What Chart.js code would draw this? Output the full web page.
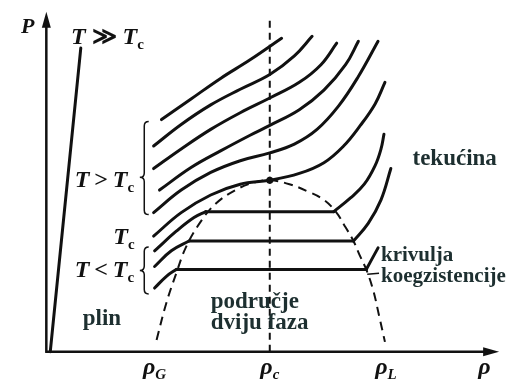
<!DOCTYPE html>
<html>
<head>
<meta charset="utf-8">
<script src="https://cdn.jsdelivr.net/npm/chart.js@4"></script>
<style>
  html, body { margin: 0; padding: 0; background: #fff; }
  canvas { display: block; }
</style>
</head>
<body>
<canvas id="chart" width="511" height="389"></canvas>
<script>
// Isotherms of a real substance in the density–pressure plane.
// x = density ρ, y = pressure P (arbitrary units, origin at the axes' corner).

// Far above the critical temperature: almost ideal gas
const hotIsotherm = [[4, 0], [35, 310]];

// Supercritical isotherms, hottest first
const superIso1 = [[117, 237], [147, 258], [177, 279], [207, 298], [239, 320]];
const superIso2 = [[109, 210], [137, 232], [167, 252], [197, 268], [227, 283], [252, 302], [270, 322]];
const superIso3 = [[109, 187], [137, 207], [167, 227], [197, 244], [227, 259], [257, 275], [279, 293], [295, 315]];
const superIso4 = [[115, 165], [147, 188], [177, 205], [207, 221], [227, 231], [257, 247], [282, 267], [304, 293], [317, 317]];
const superIso5 = [[109, 142], [137, 165], [167, 183], [197, 195], [227, 203], [252, 212], [275, 227], [297, 251], [317, 281], [337, 317]];

// Critical isotherm and the critical point
const criticalIso = [[109, 118], [137, 142], [167, 160], [197, 171], [227, 175], [257, 182], [282, 193], [302, 210], [319, 231], [334, 253], [344, 275]];
const criticalPoint = [[227, 175]];

// Subcritical isotherms: saturation pressure, coexisting densities, gas and liquid branches
const satPressure = [143, 113, 84];
const satGasDensity = [162, 145, 132];
const satLiquidDensity = [292, 312, 325];
const gasBranches = [
  [[110, 103], [132, 123], [150, 137]],
  [[110, 87], [127, 103]],
  [[110, 65], [122, 77]]
];
const liquidBranches = [
  [[309, 157], [323, 171], [334, 190], [340, 207], [343, 222]],
  [[327, 131], [340, 155], [350, 187]],
  [[337, 106]]
];

// Coexistence (binodal) curve
const coexistence = [[112, 12], [122, 50], [132, 80], [142, 107], [157, 133], [172, 151], [192, 165], [212, 173], [227, 175],
  [247, 171], [267, 163], [282, 155], [294, 143], [304, 127], [312, 113], [319, 97], [325, 84], [332, 63], [338, 37], [344, 10]];

// Density tick marks on the ρ axis
const rhoTickValues = [110, 227, 345];
const rhoTickSubs = ['G', 'c', 'L'];

// Region and curve labels
const regionWords = ['plin', 'područje', 'dviju faza', 'tekućina', 'krivulja', 'koegzistencije'];

const pts = arr => arr.map(([x, y]) => ({ x, y }));

const curve = (data, extra = {}) => Object.assign({
  data: pts(data), showLine: true, borderColor: '#111', borderWidth: 3,
  pointRadius: 0, tension: 0.4, fill: false, borderCapStyle: 'round'
}, extra);

const datasets = [];
datasets.push(curve(hotIsotherm, { tension: 0 }));
[superIso1, superIso2, superIso3, superIso4, superIso5, criticalIso].forEach(d => datasets.push(curve(d)));

satPressure.forEach((p, i) => {
  const gasEnd = [satGasDensity[i], p];
  const liqStart = [satLiquidDensity[i], p];
  datasets.push(curve([...gasBranches[i], gasEnd]));
  datasets.push(curve([gasEnd, liqStart], { tension: 0 }));
  datasets.push(curve([liqStart, ...liquidBranches[i]]));
});

datasets.push(curve(coexistence, { borderWidth: 2, borderDash: [9, 6], borderCapStyle: 'butt' }));
datasets.push(curve([[rhoTickValues[1], 0], [rhoTickValues[1], 340]], {
  borderWidth: 2, borderDash: [7, 5], tension: 0, borderCapStyle: 'butt'
}));
datasets.push({ data: pts(criticalPoint), showLine: false, pointRadius: 3.5, pointBackgroundColor: '#111', pointBorderWidth: 0 });

const SERIF = '"Liberation Serif", "DejaVu Serif", serif';

// Draws a run of text pieces (normal, italic, subscript) starting at x on baseline y
function drawRich(ctx, x, y, parts, size, align) {
  const fontOf = p => `${p.it ? 'italic ' : ''}bold ${p.sub ? Math.round(size * 0.62) : size}px ${SERIF}`;
  let total = 0;
  parts.forEach(p => { ctx.font = fontOf(p); total += ctx.measureText(p.t).width; });
  let cx = align === 'center' ? x - total / 2 : x;
  parts.forEach(p => {
    ctx.font = fontOf(p);
    ctx.fillText(p.t, cx, p.sub ? y + size * 0.2 : y);
    cx += ctx.measureText(p.t).width;
  });
}

// Left-pointing curly brace between top and bottom, tip at tipY
function drawBrace(ctx, xl, xr, top, bottom, tipY) {
  const xm = (xl + xr) / 2, r = xr - xm;
  ctx.beginPath();
  ctx.moveTo(xr, top);
  ctx.quadraticCurveTo(xm, top, xm, top + r);
  ctx.lineTo(xm, tipY - r);
  ctx.quadraticCurveTo(xm, tipY, xl, tipY);
  ctx.quadraticCurveTo(xm, tipY, xm, tipY + r);
  ctx.lineTo(xm, bottom - r);
  ctx.quadraticCurveTo(xm, bottom, xr, bottom);
  ctx.stroke();
}

const annotations = {
  id: 'phaseAnnotations',
  afterDatasetsDraw(chart) {
    const { ctx, scales: { x, y } } = chart;
    const px = v => x.getPixelForValue(v), py = v => y.getPixelForValue(v);
    ctx.save();
    ctx.strokeStyle = '#111';
    ctx.fillStyle = '#111';
    ctx.lineCap = 'butt';

    // Axes with arrowheads
    const ox = px(0), oy = py(0);
    const yTip = py(347), xTip = px(460);
    ctx.lineWidth = 2.5;
    ctx.beginPath();
    ctx.moveTo(ox, oy + 1); ctx.lineTo(ox, yTip + 10);
    ctx.moveTo(ox - 1, oy); ctx.lineTo(xTip - 10, oy);
    ctx.stroke();
    ctx.beginPath();
    ctx.moveTo(ox, yTip); ctx.lineTo(ox - 4.5, yTip + 16); ctx.lineTo(ox + 4.5, yTip + 16); ctx.closePath();
    ctx.fill();
    ctx.beginPath();
    ctx.moveTo(xTip, oy); ctx.lineTo(xTip - 16, oy - 4.5); ctx.lineTo(xTip - 16, oy + 4.5); ctx.closePath();
    ctx.fill();

    // Braces grouping the isotherms
    ctx.lineWidth = 1.5;
    drawBrace(ctx, px(95), px(104), py(235), py(140), py(178));
    drawBrace(ctx, px(95), px(104), py(107), py(59), py(83));

    // Leader to the coexistence curve label
    ctx.beginPath();
    ctx.moveTo(px(326), py(79)); ctx.lineTo(px(338), py(80));
    ctx.stroke();

    ctx.textBaseline = 'alphabetic';
    ctx.textAlign = 'left';

    // Axis titles and temperature labels
    const thin = '\u2009';
    drawRich(ctx, px(-19), py(325), [{ t: 'P', it: true }], 22, 'center');
    drawRich(ctx, px(25), py(314), [{ t: 'T', it: true }, { t: ' ≫ ' }, { t: 'T', it: true }, { t: 'c', sub: true }], 24, 'left');
    drawRich(ctx, px(29), py(168), [{ t: 'T', it: true }, { t: thin + '>' + thin }, { t: 'T', it: true }, { t: 'c', sub: true }], 24, 'left');
    drawRich(ctx, px(68), py(110), [{ t: 'T', it: true }, { t: 'c', sub: true }], 24, 'left');
    drawRich(ctx, px(29), py(76), [{ t: 'T', it: true }, { t: thin + '<' + thin }, { t: 'T', it: true }, { t: 'c', sub: true }], 24, 'left');

    // Density ticks
    rhoTickValues.forEach((v, i) => {
      drawRich(ctx, px(v), py(-23), [{ t: 'ρ', it: true }, { t: rhoTickSubs[i], it: true, sub: true }], 24, 'center');
    });
    drawRich(ctx, px(445), py(-23), [{ t: 'ρ', it: true }], 24, 'center');

    // Region words
    ctx.fillStyle = '#1d2f30';
    ctx.font = `bold 23px ${SERIF}`;
    ctx.fillText(regionWords[0], px(37), py(27));
    ctx.fillText(regionWords[1], px(167), py(45));
    ctx.fillText(regionWords[2], px(167), py(23));
    ctx.fillText(regionWords[3], px(372), py(191));
    ctx.font = `bold 21px ${SERIF}`;
    ctx.fillText(regionWords[4], px(340), py(93));
    ctx.fillText(regionWords[5], px(340), py(71));
    ctx.restore();
  }
};

new Chart(document.getElementById('chart'), {
  type: 'scatter',
  data: { datasets },
  options: {
    responsive: false,
    animation: false,
    devicePixelRatio: 1,
    layout: { padding: 0 },
    plugins: { legend: { display: false }, tooltip: { enabled: false } },
    scales: {
      x: { type: 'linear', min: -43, max: 468, display: false },
      y: { type: 'linear', min: -34, max: 355, display: false }
    }
  },
  plugins: [annotations]
});
</script>
</body>
</html>
